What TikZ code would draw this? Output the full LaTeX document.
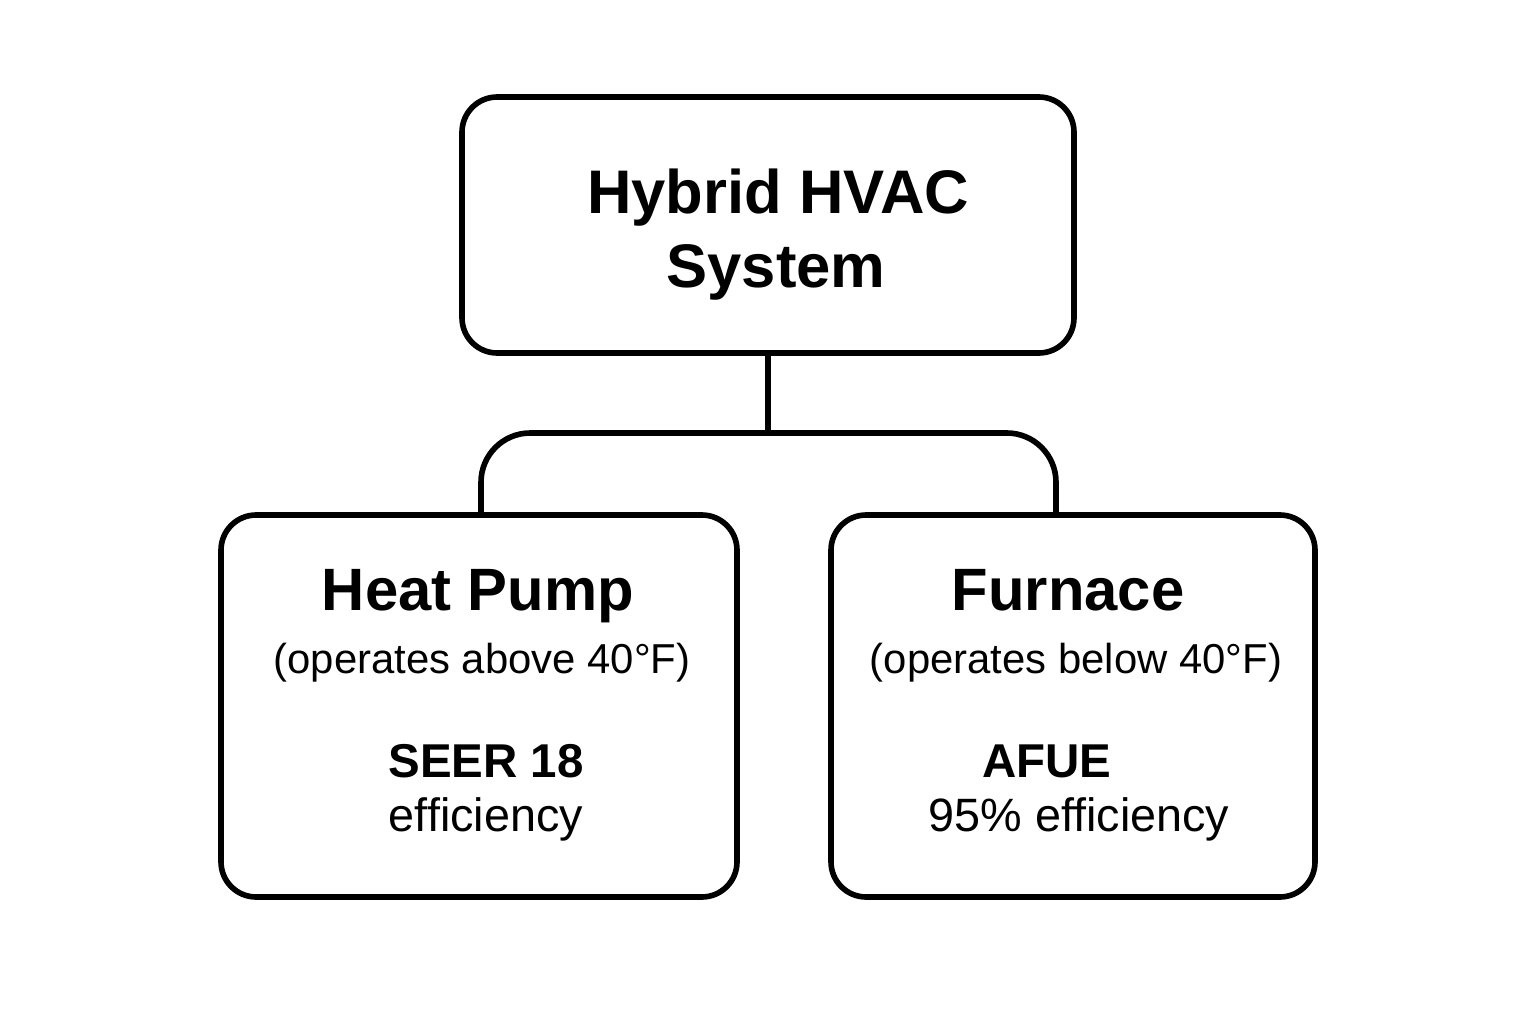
\documentclass[tikz,border=0pt]{standalone}
\usepackage{fontspec}
\setmainfont{Liberation Sans}
\begin{document}
\begin{tikzpicture}[x=0.01cm,y=-0.01cm,
  box/.style={draw, line width=1.6pt, rounded corners=10pt},
  head/.style={font=\bfseries\fontsize{17.5}{21.5}\selectfont, anchor=base},
  title/.style={font=\bfseries\fontsize{17}{20}\selectfont, anchor=base},
  sub/.style={font=\fontsize{11.9}{14}\selectfont, anchor=base},
  value/.style={font=\bfseries\fontsize{13.5}{16}\selectfont, anchor=base},
  note/.style={font=\fontsize{13.3}{16}\selectfont, anchor=base}]
	\useasboundingbox (0,0) rectangle (1536,1024);

	% Boxes
	\draw[box] (462,97) rectangle (1074,353);
	\draw[box] (221,515) rectangle (737,897);
	\draw[box] (831,515) rectangle (1315,897);
	\coordinate (top) at (768,353);
	\coordinate (hp) at (481,515);
	\coordinate (fu) at (1056,515);

	% Connectors
	\draw[line width=1.6pt] (top) -- (768,433);
	\draw[line width=1.6pt, rounded corners=14pt] (hp) |- (768,433) -| (fu);

	% Top text
	\node[head] (sys1) at (778,213) {Hybrid HVAC};
	\node[head] (sys2) at (776,287) {System};

	% Heat pump
	\node[title] (hptitle) at (478,610) {Heat Pump};
	\node[sub] (hpsub) at (482,673) {(operates above 40°F)};
	\node[value] (hpval) at (486,777) {SEER 18};
	\node[note] (hpnote) at (486,831) {efficiency};

	% Furnace
	\node[title] (futitle) at (1068,610) {Furnace};
	\node[sub] (fusub) at (1076,673) {(operates below 40°F)};
	\node[value] (fuval) at (1047,777) {AFUE};
	\node[note] (funote) at (1079,831) {95\% efficiency};
\end{tikzpicture}
\end{document}
